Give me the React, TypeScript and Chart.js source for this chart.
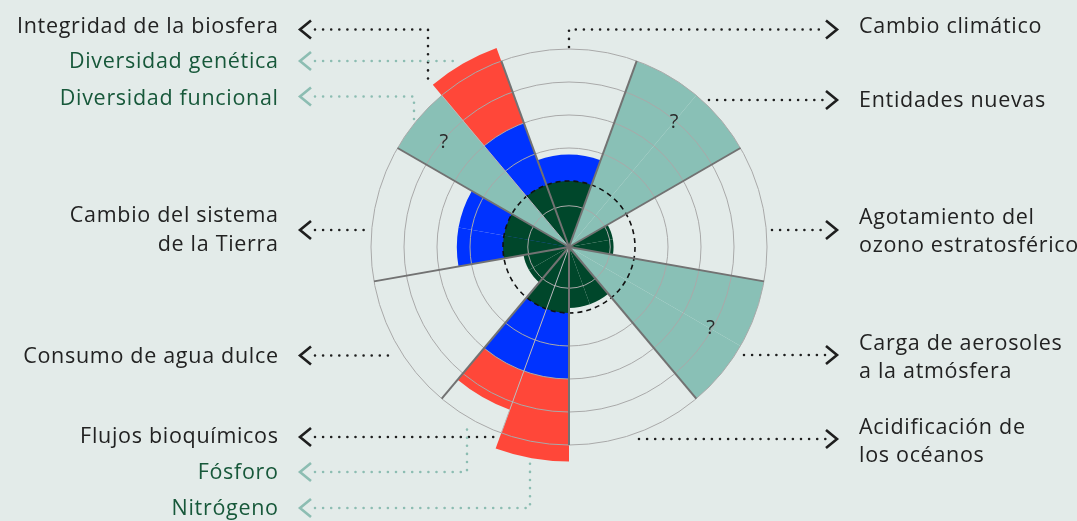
import React, { useEffect, useRef } from 'react';
import { Chart, registerables } from 'chart.js';

Chart.register(...registerables);

// ---- data (18 slots of 20°, starting at -20° from north, clockwise) ----
const slotNames = [
  'Cambio climático', 'Cambio climático',
  'Entidades nuevas', 'Entidades nuevas',
  'Agotamiento del ozono estratosférico', 'Agotamiento del ozono estratosférico',
  'Carga de aerosoles a la atmósfera', 'Carga de aerosoles a la atmósfera',
  'Acidificación de los océanos', 'Acidificación de los océanos',
  'Nitrógeno', 'Fósforo',
  'Consumo de agua dulce', 'Consumo de agua dulce',
  'Cambio del sistema de la Tierra', 'Cambio del sistema de la Tierra',
  'Diversidad funcional', 'Diversidad genética',
];
// control variable status, in ring units (boundary = 2, high risk = 4)
const statusValues = [2.8, 2.8, 0, 0, 1.35, 1.35, 0, 0, 1.85, 1.85, 6.5, 5.25, 1.4, 1.4, 3.4, 3.4, 0, 6.42];
// boundaries not quantified ("?")
const unknownValues = [0, 0, 6, 6, 0, 0, 6, 6, 0, 0, 0, 0, 0, 0, 0, 0, 6, 0];
const questionSlots = [[2, 3], [6, 7], [16, 16]];
const ringValues = [0, 1.25, 2, 3, 4, 5, 6];
const safeLimit = 2;
const highRiskLimit = 4;
const scaleMax = 6;
const startAngleDeg = -20;

const BG = '#e3ebe9';
const GREEN = '#00472b';
const BLUE = '#0033ff';
const RED = '#ff4739';
const TEAL = '#89c0b6';
const INK = '#222222';
const GREEN_INK = '#17583a';
const TEAL_DOT = '#8cbdb2';
const FONT = '500 21.5px "Open Sans", Lato, sans-serif';

const greenData = statusValues.map((v) => Math.min(v, safeLimit));
const blueData = statusValues.map((v) => (v > safeLimit ? Math.min(v, highRiskLimit) : 0));
const redData = statusValues.map((v) => (v > highRiskLimit ? v : 0));

type Lbl = { lines: string[]; y: number; base: number[]; sub?: boolean };
const leftLabels: Lbl[] = [
  { lines: ['Integridad de la biosfera'], y: 29.5, base: [33] },
  { lines: ['Diversidad genética'], y: 61, base: [68], sub: true },
  { lines: ['Diversidad funcional'], y: 96.5, base: [104.5], sub: true },
  { lines: ['Cambio del sistema', 'de la Tierra'], y: 230, base: [222, 251] },
  { lines: ['Consumo de agua dulce'], y: 355.5, base: [363] },
  { lines: ['Flujos bioquímicos'], y: 437, base: [443] },
  { lines: ['Fósforo'], y: 472, base: [479], sub: true },
  { lines: ['Nitrógeno'], y: 508, base: [515], sub: true },
];
const rightLabels: Lbl[] = [
  { lines: ['Cambio climático'], y: 29.5, base: [33] },
  { lines: ['Entidades nuevas'], y: 100, base: [107] },
  { lines: ['Agotamiento del', 'ozono estratosférico'], y: 230, base: [224, 252] },
  { lines: ['Carga de aerosoles', 'a la atmósfera'], y: 355, base: [350, 378] },
  { lines: ['Acidificación de', 'los océanos'], y: 439, base: [434, 462] },
];
type Leader = { pts: number[][]; sub?: boolean };
const leaders: Leader[] = [
  { pts: [[315, 29.5], [428, 29.5], [428, 86]] },
  { pts: [[315, 61], [457, 61]], sub: true },
  { pts: [[315, 96.5], [414, 96.5], [414, 122]], sub: true },
  { pts: [[315, 230], [370, 230]] },
  { pts: [[315, 355.5], [396, 355.5]] },
  { pts: [[315, 437], [497, 437]] },
  { pts: [[315, 472], [467, 472], [467, 425]], sub: true },
  { pts: [[315, 508], [530, 508], [530, 462]], sub: true },
  { pts: [[569, 47], [569, 29.5], [826, 29.5]] },
  { pts: [[709, 100], [826, 100]] },
  { pts: [[772, 230], [826, 230]] },
  { pts: [[744, 355], [826, 355]] },
  { pts: [[639, 439], [826, 439]] },
];

const decorPlugin = {
  id: 'decor',
  afterDraw(chart: any) {
    const ctx = chart.ctx as CanvasRenderingContext2D;
    const scale = chart.scales.r;
    ctx.save();
    // question marks
    ctx.font = '20px "Open Sans", sans-serif';
    ctx.fillStyle = '#2a2a2a';
    ctx.textAlign = 'center';
    ctx.textBaseline = 'middle';
    const step = 360 / slotNames.length;
    questionSlots.forEach(([a, b]) => {
      const ang = ((startAngleDeg + ((a + b + 1) / 2) * step) * Math.PI) / 180;
      const d = scale.getDistanceFromCenterForValue(4.95);
      ctx.fillText('?', scale.xCenter + d * Math.sin(ang), scale.yCenter - d * Math.cos(ang));
    });
    // dotted leaders
    leaders.forEach((l) => {
      ctx.save();
      ctx.strokeStyle = l.sub ? TEAL_DOT : '#1e1e1e';
      ctx.lineWidth = 2.6;
      ctx.lineCap = 'round';
      ctx.setLineDash([0, 8.1]);
      ctx.beginPath();
      l.pts.forEach((p, i) => (i === 0 ? ctx.moveTo(p[0], p[1]) : ctx.lineTo(p[0], p[1])));
      ctx.stroke();
      ctx.restore();
    });
    // chevrons
    const chevron = (x: number, y: number, dir: number, color: string) => {
      ctx.save();
      ctx.strokeStyle = color;
      ctx.lineWidth = 2.6;
      ctx.lineJoin = 'miter';
      ctx.beginPath();
      ctx.moveTo(x - dir * 11, y - 9);
      ctx.lineTo(x, y);
      ctx.lineTo(x - dir * 11, y + 9);
      ctx.stroke();
      ctx.restore();
    };
    ctx.font = FONT;
    (ctx as any).letterSpacing = '0.7px';
    ctx.textBaseline = 'alphabetic';
    leftLabels.forEach((l) => {
      chevron(300, l.y, -1, l.sub ? TEAL_DOT : '#1e1e1e');
      ctx.fillStyle = l.sub ? GREEN_INK : INK;
      ctx.textAlign = 'right';
      l.lines.forEach((t, i) => ctx.fillText(t, 278.7, l.base[i]));
    });
    rightLabels.forEach((l) => {
      chevron(837, l.y, 1, '#1e1e1e');
      ctx.fillStyle = INK;
      ctx.textAlign = 'left';
      l.lines.forEach((t, i) => ctx.fillText(t, 859, l.base[i]));
    });
    ctx.restore();
  },
};

export default function App() {
  const ref = useRef<HTMLCanvasElement | null>(null);
  useEffect(() => {
    if (!ref.current) return;
    const chart = new Chart(ref.current, {
      type: 'polarArea',
      data: {
        labels: slotNames,
        datasets: [
          { label: 'Zona segura', data: greenData, backgroundColor: GREEN, borderWidth: 0, order: 1 },
          { label: 'Riesgo creciente', data: blueData, backgroundColor: BLUE, borderWidth: 0, order: 2 },
          { label: 'Riesgo alto', data: redData, backgroundColor: RED, borderWidth: 0, order: 3 },
          { label: 'Sin cuantificar', data: unknownValues, backgroundColor: TEAL, borderWidth: 0, order: 4 },
        ],
      } as any,
      options: {
        responsive: false,
        animation: false,
        layout: { padding: { left: 371, right: 310, top: 49, bottom: 76 } },
        plugins: { legend: { display: false }, tooltip: { enabled: false } },
        scales: {
          r: {
            min: 0,
            max: scaleMax,
            startAngle: startAngleDeg,
            ticks: { display: false },
            pointLabels: { display: false },
            afterBuildTicks: (s: any) => {
              s.ticks = ringValues.map((v) => ({ value: v }));
            },
            grid: {
              z: 1,
              circular: true,
              color: (c: any) => (c.tick && c.tick.value === safeLimit ? '#111111' : '#a9a9a9'),
              lineWidth: (c: any) => (c.tick && c.tick.value === safeLimit ? 1.6 : 1),
            },
            border: {
              dash: (c: any) => (c.tick && c.tick.value === safeLimit ? [5, 4] : []),
            },
            angleLines: {
              display: true,
              color: (c: any) =>
                c.index % 2 === 0 ? '#727272' : c.index === 11 || c.index === 17 ? '#b9b9b9' : 'rgba(0,0,0,0)',
              lineWidth: (c: any) => (c.index % 2 === 0 ? 2 : c.index === 11 || c.index === 17 ? 1 : 0),
            },
          },
        },
      } as any,
      plugins: [decorPlugin],
    });
    return () => chart.destroy();
  }, []);
  return (
    <div style={{ position: 'fixed', left: 0, top: 0, width: 1077, height: 521, background: BG }}>
      <canvas ref={ref} width={1077} height={521} style={{ display: 'block' }} />
    </div>
  );
}
